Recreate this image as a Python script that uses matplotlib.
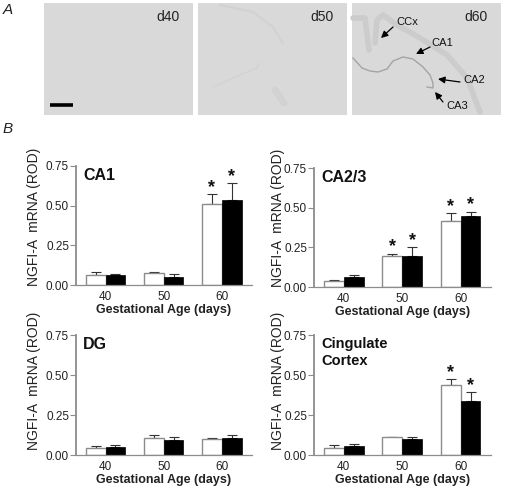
#!/usr/bin/env python3
import numpy as np
import matplotlib
matplotlib.use('Agg')
import matplotlib.pyplot as plt

plt.rcParams['font.family'] = ['Liberation Sans', 'DejaVu Sans']

W, H = 505, 492

ages = ['40', '50', '60']
yticks = [0.0, 0.25, 0.5, 0.75]

ca1_white = [0.06, 0.075, 0.51]
ca1_black = [0.065, 0.052, 0.535]
ca1_white_top = [0.08, 0.085, 0.575]
ca1_black_top = [0.07, 0.07, 0.64]

ca23_white = [0.038, 0.195, 0.415]
ca23_black = [0.063, 0.197, 0.447]
ca23_white_top = [0.045, 0.21, 0.465]
ca23_black_top = [0.078, 0.25, 0.475]

dg_white = [0.045, 0.105, 0.103]
dg_black = [0.05, 0.095, 0.108]
dg_white_top = [0.057, 0.127, 0.108]
dg_black_top = [0.065, 0.11, 0.127]

cc_white = [0.045, 0.112, 0.437]
cc_black = [0.058, 0.097, 0.337]
cc_white_top = [0.06, 0.115, 0.477]
cc_black_top = [0.07, 0.113, 0.392]

# stars: (group, 0 white / 1 black)
ca1_stars = [(2, 0), (2, 1)]
ca23_stars = [(1, 0), (1, 1), (2, 0), (2, 1)]
dg_stars = []
cc_stars = [(2, 0), (2, 1)]

# section outlines, traced in pixels of the picture
d50_lines = [
    ([213, 233, 257, 259], [87, 78, 68, 63], 1.0),
    ([220, 253, 273, 283], [5, 12, 27, 43], 1.5),
    ([275, 280, 284], [90, 97, 103], 5),
]
d60_lines = [
    ([353, 362, 370, 378, 387, 393, 403, 413, 423, 430, 433, 433, 427],
     [58, 68, 71, 72, 69, 61, 57, 59, 67, 75, 83, 88, 87], 1.0),
]
d60_bands = [
    ([375, 377, 383, 397, 420, 447, 467, 480], [43, 20, 15, 25, 38, 55, 78, 112], 4),
    ([353, 365, 369], [18, 18, 50], 4),
]

GRAY = '#8c8c8c'


def px_axes(fig, left, right, top, bottom):
    return fig.add_axes([left / W, 1 - bottom / H, (right - left) / W, (bottom - top) / H])


def bar_panel(fig, box, white, black, white_top, black_top, stars, title, label_x, label_y, title_size):
    ax = px_axes(fig, *box)
    x = np.arange(3)
    w = 0.34
    ax.bar(x - w / 2, white, w, color='white', edgecolor=GRAY, linewidth=1.0, zorder=2)
    ax.bar(x + w / 2, black, w, color='black', edgecolor='black', linewidth=0.5, zorder=2)
    ax.errorbar(x - w / 2, white, yerr=[np.zeros(3), np.array(white_top) - white],
                fmt='none', ecolor='#333333', elinewidth=0.8, capsize=3.5, capthick=0.8, zorder=1)
    ax.errorbar(x + w / 2, black, yerr=[np.zeros(3), np.array(black_top) - black],
                fmt='none', ecolor='#333333', elinewidth=0.8, capsize=3.5, capthick=0.8, zorder=1)
    for g, s in stars:
        top = black_top[g] if s else white_top[g]
        ax.text(g + (w / 2 if s else -w / 2), top - 0.012, '*', ha='center', va='bottom',
                fontsize=13, fontweight='bold', color='#111111')
    ax.set_xlim(-0.51, 2.52)
    ax.set_ylim(0, 0.75)
    ax.set_xticks(x, ages)
    ax.set_yticks(yticks, ['0.00', '0.25', '0.50', '0.75'])
    ax.tick_params(axis='x', length=0, labelsize=8.5, pad=4, labelcolor='#222222')
    ax.tick_params(axis='y', length=4, width=0.8, color=GRAY, labelsize=8.5, pad=1, labelcolor='#222222')
    ax.spines['top'].set_visible(False)
    ax.spines['right'].set_visible(False)
    ax.spines['left'].set_color(GRAY)
    ax.spines['left'].set_linewidth(1.3)
    ax.spines['bottom'].set_color(GRAY)
    ax.spines['bottom'].set_linewidth(0.9)
    ax.set_xlabel('Gestational Age (days)', fontsize=9, fontweight='bold', labelpad=1, color='#222222')
    ax.set_ylabel('NGFI-A  mRNA (ROD)', fontsize=10, color='#222222')
    ax.yaxis.set_label_coords(label_x, label_y)
    ax.text(0.04, 0.985, title, transform=ax.transAxes, ha='left', va='top',
            fontsize=title_size, fontweight='bold', linespacing=1.3, color='#111111')
    return ax


fig = plt.figure(figsize=(W / 100, H / 100), dpi=100)

# top row of section images, drawn in picture pixels
top = fig.add_axes([0, 0, 1, 1])
top.set_xlim(0, W)
top.set_ylim(H, 0)
top.axis('off')
for left, label in zip([44, 198, 352], ['d40', 'd50', 'd60']):
    top.add_patch(plt.Rectangle((left, 3), 149, 112, color='#d9d9d9', lw=0))
    top.text(left + 136, 17, label, ha='right', va='center', fontsize=10, color='#222222')
for xs, ys, lw in d50_lines:
    top.plot(xs, ys, color='#d2d2d2', lw=lw, solid_capstyle='round')
for xs, ys, lw in d60_bands:
    top.plot(xs, ys, color='#cccccc', lw=lw, solid_capstyle='round')
for xs, ys, lw in d60_lines:
    top.plot(xs, ys, color='#a4a4a4', lw=lw)
top.plot([50, 72.5], [105, 105], color='black', lw=2.6, solid_capstyle='butt')
top.text(3, 10, 'A', fontsize=11, style='italic', va='center', color='#222222')
top.text(3, 129, 'B', fontsize=11, style='italic', va='center', color='#222222')

arrow_labels = ['CCx', 'CA1', 'CA2', 'CA3']
label_xy = [(396, 22), (431, 43), (463, 80), (446, 106)]
arrow_from = [(393, 27), (430, 47), (460, 82), (443, 102)]
arrow_tip = [(381, 38), (416, 54), (438, 79), (435, 92)]
for label, text_xy, start, tip in zip(arrow_labels, label_xy, arrow_from, arrow_tip):
    top.text(*text_xy, label, fontsize=8, ha='left', va='center', color='#111111')
    top.annotate('', xy=tip, xytext=start,
                 arrowprops=dict(arrowstyle='-|>', color='black', lw=0.9, shrinkA=0, shrinkB=0,
                                 mutation_scale=10))

bar_panel(fig, (76, 252, 166, 285), ca1_white, ca1_black, ca1_white_top, ca1_black_top, ca1_stars,
          'CA1', -0.2, 0.57, 11.5)
bar_panel(fig, (314, 491, 168, 287), ca23_white, ca23_black, ca23_white_top, ca23_black_top, ca23_stars,
          'CA2/3', -0.165, 0.584, 11.5)
bar_panel(fig, (76, 252, 335, 455), dg_white, dg_black, dg_white_top, dg_black_top, dg_stars,
          'DG', -0.2, 0.617, 11.5)
bar_panel(fig, (314, 491, 335, 455), cc_white, cc_black, cc_white_top, cc_black_top, cc_stars,
          'Cingulate\nCortex', -0.165, 0.617, 10.5)

fig.savefig('out.png', dpi=100)
